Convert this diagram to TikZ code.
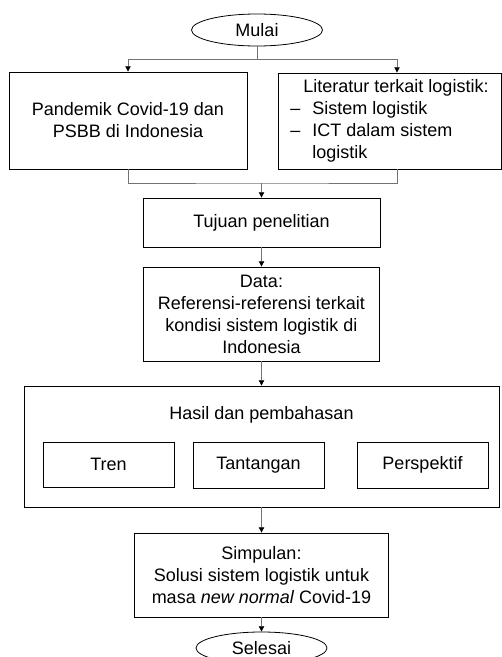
\documentclass[tikz,border=0pt]{standalone}
\usepackage{fontspec}
\setmainfont{Liberation Sans}
\usetikzlibrary{arrows.meta}
\usetikzlibrary{shapes.geometric}

\begin{document}
\begin{tikzpicture}[x=0.75pt, y=-0.75pt,
  txt/.style={font=\fontsize{13.5}{16.5}\selectfont},
  box/.style={txt, draw, line width=0.6pt, rectangle, inner sep=2pt, align=center},
  oval/.style={txt, draw, line width=0.6pt, ellipse, inner sep=0pt, minimum width=98.25pt, minimum height=24pt},
  conn/.style={draw=black!55, line width=0.6pt},
  arr/.style={conn, -{Triangle[length=4pt,width=4pt,color=black]}}]
\def\px{0.75pt}
\clip (0,0) rectangle (502,657);

\node[oval] (mulai) at (257,30) {Mulai};
\node[box, minimum width=238*\px, minimum height=97*\px] (pandemi) at (128,120.5) {Pandemik Covid-19 dan\\PSBB di Indonesia};
\node[box, minimum width=223*\px, minimum height=96*\px, align=left] (literatur) at (389.5,121) {\hspace*{9.75pt}Literatur terkait logistik:\\\makebox[16.5pt][l]{\textendash}Sistem logistik\\\makebox[16.5pt][l]{\textendash}ICT dalam sistem\\\hspace*{16.5pt}logistik};
\node[box, minimum width=237*\px, minimum height=49*\px] (tujuan) at (261.5,222.5) {Tujuan penelitian};
\node[box, minimum width=236*\px, minimum height=94*\px] (data) at (261.5,314) {Data:\\Referensi-referensi terkait\\kondisi sistem logistik di\\Indonesia};
\node[box, minimum width=475*\px, minimum height=121*\px] (hasil) at (261.5,446.5) {};
\node[txt] (hasiljudul) at (261.5,415) {Hasil dan pembahasan};
\node[box, minimum width=131*\px, minimum height=45*\px] (tren) at (108.5,464.5) {Tren};
\node[box, minimum width=131*\px, minimum height=46*\px] (tantangan) at (258.5,465) {Tantangan};
\node[box, minimum width=131*\px, minimum height=46*\px] (perspektif) at (422.5,465) {Perspektif};
\node[box, minimum width=254*\px, minimum height=84*\px] (simpulan) at (261.5,575) {Simpulan:\\Solusi sistem logistik untuk\\masa \textit{new normal} Covid-19};
\node[oval] (selesai) at (261.5,648) {Selesai};

\coordinate (split) at (257,59.5);
\coordinate (merge) at (261.5,183);

\draw[conn] (mulai) -- (split);
\draw[arr] (split) -| (pandemi.north);
\draw[arr] (split) -| ([xshift=7.5*\px]literatur.north);
\draw[conn] (pandemi.south) |- (merge) -| ([xshift=7.5*\px]literatur.south);
\draw[arr] (merge) -- (tujuan);
\draw[arr] (tujuan) -- (data);
\draw[arr] (data) -- (hasil);
\draw[arr] (hasil) -- (simpulan);
\draw[arr] (simpulan) -- (selesai);

\end{tikzpicture}
\end{document}
